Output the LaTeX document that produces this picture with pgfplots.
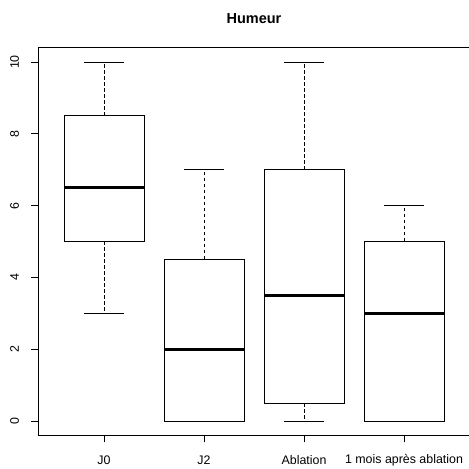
\documentclass[border=0pt]{standalone}
\usepackage{fontspec}
\setmainfont{Liberation Sans}
\usepackage{pgfplots}
\pgfplotsset{compat=1.18}
\usepgfplotslibrary{statistics}
\begin{document}
\begin{tikzpicture}
\useasboundingbox (-38pt,-33.7pt) rectangle (431pt,435.3pt);
\begin{axis}[
  scale only axis, width=432pt, height=387.6pt,
  xmin=0.34, xmax=4.66, ymin=-0.4, ymax=10.4,
  xtick={1,2,3,4}, xticklabels={J0,J2,Ablation,1 mois après ablation},
  ytick={0,2,...,10},
  tick pos=left, tick align=outside, major tick length=7pt,
  tick style={black, line width=0.8pt},
  axis line style={line width=0.8pt},
  /pgf/number format/assume math mode=true,
  ticklabel style={font=\fontsize{12.4}{14}\selectfont},
  yticklabel style={xshift=-16.5pt, rotate=90, anchor=center},
  xticklabel style={anchor=center, yshift=-18pt},
  title={Humeur},
  title style={font=\fontsize{14.5}{16}\selectfont\bfseries, at={(0.5,1)}, anchor=center, yshift=23.5pt},
  boxplot/draw direction=y,
  boxplot/box extend=0.8,
  boxplot/whisker extend=0.4,
  boxplot/every box/.style={draw=black, line width=0.8pt},
  boxplot/every median/.style={draw=black, line width=3pt},
  boxplot/draw/lower whisker/.code={%
    \draw[black, line width=0.8pt, dash pattern=on 3.5pt off 2.5pt] (boxplot cs:\pgfplotsboxplotvalue{lower quartile}) -- (boxplot cs:\pgfplotsboxplotvalue{lower whisker});
    \draw[black, line width=0.8pt] (boxplot whisker cs:\pgfplotsboxplotvalue{lower whisker},0) -- (boxplot whisker cs:\pgfplotsboxplotvalue{lower whisker},1);
  },
  boxplot/draw/upper whisker/.code={%
    \draw[black, line width=0.8pt, dash pattern=on 3.5pt off 2.5pt] (boxplot cs:\pgfplotsboxplotvalue{upper quartile}) -- (boxplot cs:\pgfplotsboxplotvalue{upper whisker});
    \draw[black, line width=0.8pt] (boxplot whisker cs:\pgfplotsboxplotvalue{upper whisker},0) -- (boxplot whisker cs:\pgfplotsboxplotvalue{upper whisker},1);
  },
]
\addplot[black, boxplot prepared={draw position=1, lower whisker=3, lower quartile=5, median=6.5, upper quartile=8.5, upper whisker=10}] coordinates {};
\addplot[black, boxplot prepared={draw position=2, lower whisker=0, lower quartile=0, median=2, upper quartile=4.5, upper whisker=7}] coordinates {};
\addplot[black, boxplot prepared={draw position=3, lower whisker=0, lower quartile=0.5, median=3.5, upper quartile=7, upper whisker=10}] coordinates {};
\addplot[black, boxplot prepared={draw position=4, lower whisker=0, lower quartile=0, median=3, upper quartile=5, upper whisker=6}] coordinates {};
\end{axis}
\end{tikzpicture}
\end{document}
